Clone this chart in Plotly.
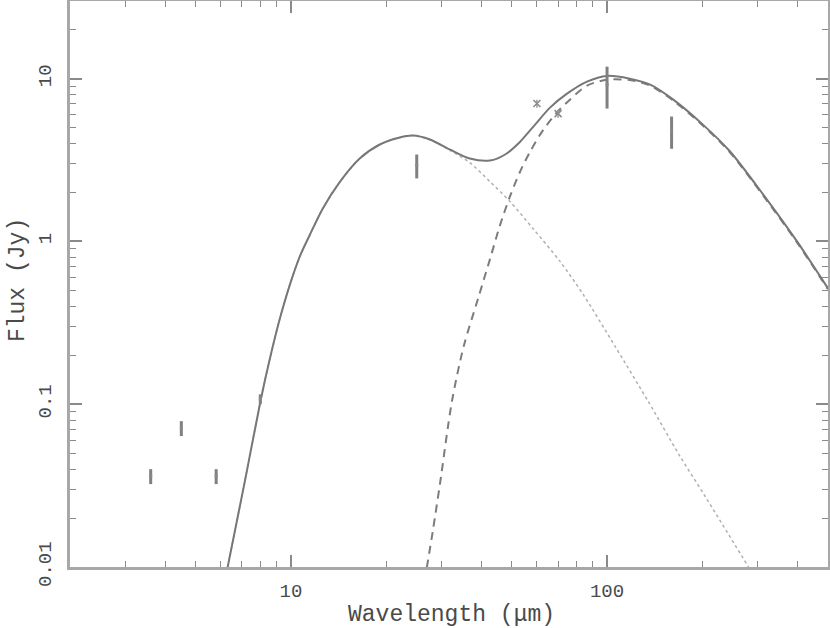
import plotly.graph_objects as go

# Total model (solid)
total_wl = [6.3, 7.15, 8.03, 8.58, 9.23, 9.93, 10.67, 11.48, 12.6, 14.3, 16.5, 19.1, 22.1, 24.3, 27.5,
            31.9, 36.8, 42.6, 47.6, 53.1, 59.2, 66.0, 74.7, 86.4, 100, 118, 137, 162, 201, 245, 312, 399, 500]
total_flux = [0.0099, 0.0337, 0.107, 0.191, 0.337, 0.545, 0.81, 1.10, 1.59, 2.33, 3.23, 3.94, 4.35, 4.47, 4.23,
              3.66, 3.23, 3.14, 3.42, 4.10, 5.22, 6.64, 8.09, 9.59, 10.4, 10.0, 9.19, 7.43, 5.22, 3.57, 1.94, 1.0, 0.515]

# Cold component (dashed)
cold_wl = [26.9, 28.1, 29.6, 32.3, 35.2, 39.1, 42.6, 45.8, 49.3, 53.1, 57.1, 61.4, 68.4, 76.3, 86.4,
           100, 118, 137, 162, 201, 245, 312, 399, 500]
cold_flux = [0.0099, 0.0166, 0.0323, 0.104, 0.227, 0.447, 0.776, 1.25, 1.89, 2.69, 3.56, 4.53, 6.01, 7.43, 9.06,
             9.86, 9.8, 9.06, 7.33, 5.15, 3.52, 1.91, 0.986, 0.508]

# Warm component (dotted)
warm_wl = [6.3, 7.15, 8.03, 8.58, 9.23, 9.93, 10.67, 11.48, 12.6, 14.3, 16.5, 19.1, 22.1, 24.3, 27.5, 31.9,
           36.8, 42.6, 49.3, 58.3, 71.0, 84.0, 106, 135, 170, 204, 281]
warm_flux = [0.0099, 0.0337, 0.107, 0.191, 0.337, 0.545, 0.81, 1.10, 1.59, 2.33, 3.23, 3.94, 4.35, 4.47, 4.23, 3.62,
             3.05, 2.33, 1.76, 1.20, 0.754, 0.473, 0.227, 0.104, 0.048, 0.0273, 0.0099]

# Observed photometry
obs_wl = [3.6, 4.5, 5.8, 8.0, 25, 100, 160]
obs_flux = [0.0361, 0.0712, 0.0361, 0.1075, 2.93, 9.2, 4.78]
obs_err = [0.0038, 0.0075, 0.0038, 0.0075, 0.49, 2.65, 1.07]

iras_wl = [60, 70]
iras_flux = [7.03, 6.1]
iras_err = [0.4, 0.35]

x_major = [10, 100]
x_major_text = ["10", "100"]
x_minor = [2, 3, 4, 5, 6, 7, 8, 9, 20, 30, 40, 50, 60, 70, 80, 90, 200, 300, 400, 500]
y_major = [0.01, 0.1, 1, 10]
y_major_text = ["0.01", "0.1", "1", "10"]
y_minor = [0.02, 0.03, 0.04, 0.05, 0.06, 0.07, 0.08, 0.09, 0.2, 0.3, 0.4, 0.5, 0.6, 0.7, 0.8, 0.9,
           2, 3, 4, 5, 6, 7, 8, 9, 20, 30]

fig = go.Figure()
fig.add_trace(go.Scatter(x=warm_wl, y=warm_flux, mode="lines",
                         line=dict(color="#b0b0b0", width=1.5, dash="dot", shape="spline", smoothing=0.8)))
fig.add_trace(go.Scatter(x=cold_wl, y=cold_flux, mode="lines",
                         line=dict(color="#7c7c7c", width=2, dash="8px,6px", shape="spline", smoothing=0.8)))
fig.add_trace(go.Scatter(x=total_wl, y=total_flux, mode="lines",
                         line=dict(color="#777777", width=2, shape="spline", smoothing=0.8)))
fig.add_trace(go.Scatter(x=obs_wl, y=obs_flux, mode="markers",
                         marker=dict(size=3, color="#8a8a8a", symbol="square"),
                         error_y=dict(type="data", array=obs_err, color="#808080", thickness=3, width=0)))
fig.add_trace(go.Scatter(x=iras_wl, y=iras_flux, mode="markers",
                         marker=dict(size=7, color="#8a8a8a", symbol="x-thin", line=dict(width=1.5, color="#8a8a8a")),
                         error_y=dict(type="data", array=iras_err, color="#9a9a9a", thickness=1.5, width=0)))

font_main = "Liberation Mono, Courier New, monospace"
axis_common = dict(
    type="log", showgrid=False, zeroline=False, showline=True, linecolor="#a8a8a8", linewidth=3,
    mirror="allticks", ticks="inside", ticklen=12, tickwidth=1.5, tickcolor="#8a8a8a", automargin=False,
    tickfont=dict(family=font_main, size=19, color="#4a4a4a"),
)
fig.update_xaxes(**axis_common, range=[0.30103, 2.69897], tickvals=x_major, ticktext=x_major_text,
                 ticklabelstandoff=4,
                 minor=dict(tickvals=x_minor, ticks="inside", ticklen=6, tickwidth=1.2, tickcolor="#8a8a8a"))
fig.update_yaxes(**axis_common, range=[-2, 1.4771], tickvals=y_major, ticktext=y_major_text, tickangle=-90,
                 ticklabelstandoff=8,
                 minor=dict(tickvals=y_minor, ticks="inside", ticklen=6, tickwidth=1.2, tickcolor="#8a8a8a"))

fig.add_annotation(text="Wavelength (μm)", xref="paper", yref="paper", x=0.503, y=-0.0848,
                   xanchor="center", yanchor="middle", showarrow=False,
                   font=dict(family=font_main, size=23, color="#4a4a4a"))
fig.add_annotation(text="Flux (Jy)", xref="paper", yref="paper", x=-0.0686, y=0.507, textangle=-90,
                   xanchor="center", yanchor="middle", showarrow=False,
                   font=dict(family=font_main, size=23, color="#4a4a4a"))

fig.update_layout(width=830, height=628, margin=dict(l=70, r=2, t=1, b=61), showlegend=False,
                  plot_bgcolor="white", paper_bgcolor="white")
fig.write_html("out.html", config={"displayModeBar": False},
               post_script="document.body.style.margin='0';document.body.style.overflow='hidden';")
